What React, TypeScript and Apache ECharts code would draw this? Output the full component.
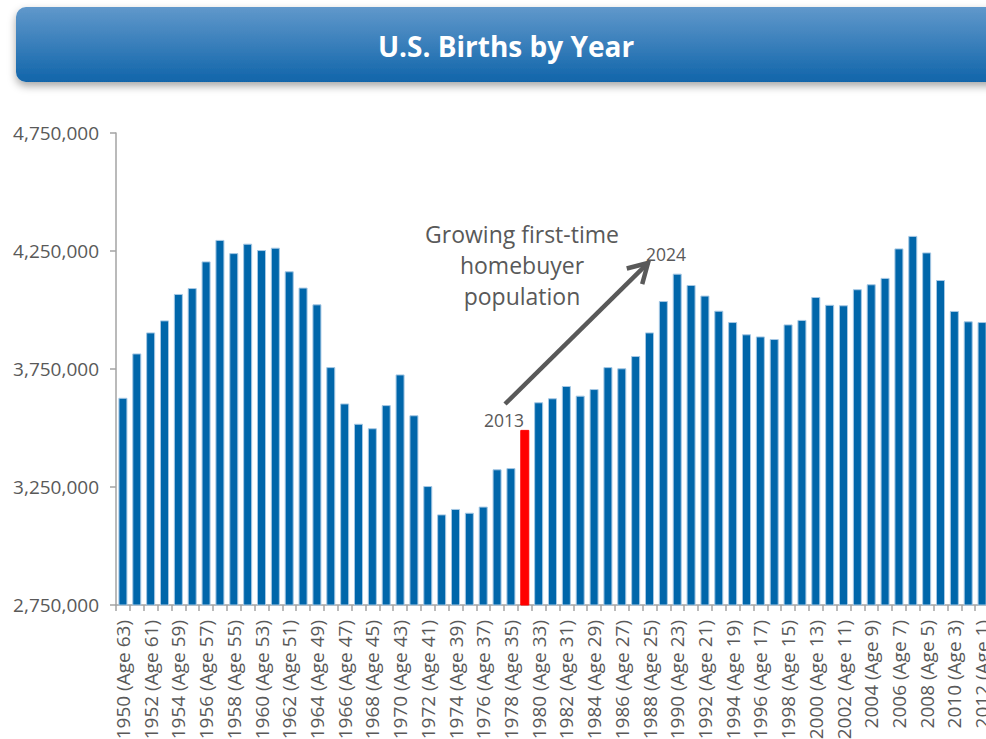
import React, { useEffect, useRef } from "react";
import * as echarts from "echarts";

const years = [
  1950, 1951, 1952, 1953, 1954, 1955, 1956, 1957, 1958, 1959,
  1960, 1961, 1962, 1963, 1964, 1965, 1966, 1967, 1968, 1969,
  1970, 1971, 1972, 1973, 1974, 1975, 1976, 1977, 1978, 1979,
  1980, 1981, 1982, 1983, 1984, 1985, 1986, 1987, 1988, 1989,
  1990, 1991, 1992, 1993, 1994, 1995, 1996, 1997, 1998, 1999,
  2000, 2001, 2002, 2003, 2004, 2005, 2006, 2007, 2008, 2009,
  2010, 2011, 2012,
];

const births = [
  3628000, 3816000, 3905000, 3956000, 4068000, 4093000, 4206000, 4297000, 4241000, 4281000,
  4254000, 4264000, 4164000, 4095000, 4024000, 3758000, 3604000, 3518000, 3499000, 3597000,
  3727000, 3554000, 3254000, 3134000, 3157000, 3141000, 3167000, 3325000, 3330000, 3492000,
  3609000, 3626000, 3678000, 3637000, 3665000, 3758000, 3753000, 3805000, 3905000, 4038000,
  4154000, 4106000, 4061000, 3997000, 3949000, 3897000, 3888000, 3877000, 3939000, 3958000,
  4055000, 4022000, 4020000, 4088000, 4109000, 4136000, 4261000, 4314000, 4244000, 4127000,
  3996000, 3952000, 3949000,
];

const referenceYear = 2013;
const highlightYear = 1979;
const yMin = 2750000;
const yMax = 4750000;
const yStep = 500000;

const title = "U.S. Births by Year";
const noteLines = ["Growing first-time", "homebuyer", "population"];
const startLabel = "2013";
const endLabel = "2024";

const FONT = '"Open Sans", "Noto Sans", sans-serif';
const TEXT = "#595959";
const AXIS = "#a3a3a3";

export default function App() {
  const ref = useRef<HTMLDivElement>(null);

  useEffect(() => {
    if (!ref.current) return;
    const chart = echarts.init(ref.current, null, { renderer: "svg" });

    const categories = years.map((y) => `${y} (Age ${referenceYear - y})`);
    const data = births.map((v, i) =>
      years[i] === highlightYear
        ? { value: v, itemStyle: { color: "#ff0000", borderColor: "#ff0000" } }
        : v
    );

    // arrow geometry (annotation)
    const sx = 505, sy = 404, tx = 648, ty = 263;
    const len = Math.hypot(tx - sx, ty - sy);
    const ux = (tx - sx) / len, uy = (ty - sy) / len;
    const nx = -uy, ny = ux;
    const back = 19, half = 11;
    const bx = tx - back * ux, by = ty - back * uy;

    chart.setOption({
      animation: false,
      backgroundColor: "#ffffff",
      grid: { left: 116, top: 133, width: 873, height: 472, containLabel: false },
      xAxis: {
        type: "category",
        data: categories,
        axisLine: { show: true, lineStyle: { color: AXIS, width: 1.5 } },
        axisTick: { show: true, interval: 0, length: 6, alignWithLabel: false, lineStyle: { color: AXIS, width: 1.5 } },
        axisLabel: {
          interval: 1,
          rotate: 90,
          margin: 15,
          color: TEXT,
          fontFamily: FONT,
          fontSize: 19,
        },
      },
      yAxis: {
        type: "value",
        min: yMin,
        max: yMax,
        interval: yStep,
        splitLine: { show: false },
        axisLine: { show: true, lineStyle: { color: AXIS, width: 1.5 } },
        axisTick: { show: true, length: 6, lineStyle: { color: AXIS, width: 1.5 } },
        axisLabel: {
          margin: 17,
          color: TEXT,
          fontFamily: FONT,
          fontSize: 19,
          formatter: (v: number) => v.toLocaleString("en-US"),
        },
      },
      series: [
        {
          type: "bar",
          data,
          barWidth: "65%",
          itemStyle: { color: "#0066aa", borderColor: "#a6c8e4", borderWidth: 1 },
        },
      ],
      graphic: [
        {
          type: "rect",
          shape: { x: 16, y: 7, width: 1000, height: 75, r: [10, 0, 0, 10] },
          style: {
            fill: new echarts.graphic.LinearGradient(0, 0, 0, 1, [
              { offset: 0, color: "#6098cb" },
              { offset: 1, color: "#1165aa" },
            ]),
            shadowBlur: 8,
            shadowOffsetX: 0,
            shadowOffsetY: 4,
            shadowColor: "rgba(0,0,0,0.35)",
          },
        },
        {
          type: "text",
          x: 506,
          y: 46,
          style: {
            text: title,
            fill: "#ffffff",
            font: `bold 28px ${FONT}`,
            align: "center",
            verticalAlign: "middle",
            textAlign: "center",
            textVerticalAlign: "middle",
          },
        },
        ...noteLines.map((t, i) => ({
          type: "text",
          x: 522,
          y: 234 + i * 31,
          style: {
            text: t,
            fill: TEXT,
            font: `23px ${FONT}`,
            align: "center",
            verticalAlign: "middle",
            textAlign: "center",
            textVerticalAlign: "middle",
          },
        })),
        {
          type: "text",
          x: 666,
          y: 254,
          style: {
            text: endLabel,
            fill: TEXT,
            font: `17.5px ${FONT}`,
            align: "center",
            verticalAlign: "middle",
            textAlign: "center",
            textVerticalAlign: "middle",
          },
        },
        {
          type: "text",
          x: 504,
          y: 420,
          style: {
            text: startLabel,
            fill: TEXT,
            font: `17.5px ${FONT}`,
            align: "center",
            verticalAlign: "middle",
            textAlign: "center",
            textVerticalAlign: "middle",
          },
        },
        {
          type: "line",
          shape: { x1: sx, y1: sy, x2: tx - 3 * ux, y2: ty - 3 * uy },
          style: { stroke: TEXT, lineWidth: 4.5, lineCap: "butt" },
        },
        {
          type: "polyline",
          shape: {
            points: [
              [bx + half * nx, by + half * ny],
              [tx, ty],
              [bx - half * nx, by - half * ny],
            ],
          },
          style: { stroke: TEXT, lineWidth: 4.5, fill: "none", lineJoin: "miter" },
        },
      ],
    });

    return () => chart.dispose();
  }, []);

  return (
    <div
      style={{
        position: "fixed",
        left: 0,
        top: 0,
        width: 986,
        height: 739,
        overflow: "hidden",
        background: "#ffffff",
      }}
    >
      <div ref={ref} style={{ width: 1000, height: 760 }} />
    </div>
  );
}
